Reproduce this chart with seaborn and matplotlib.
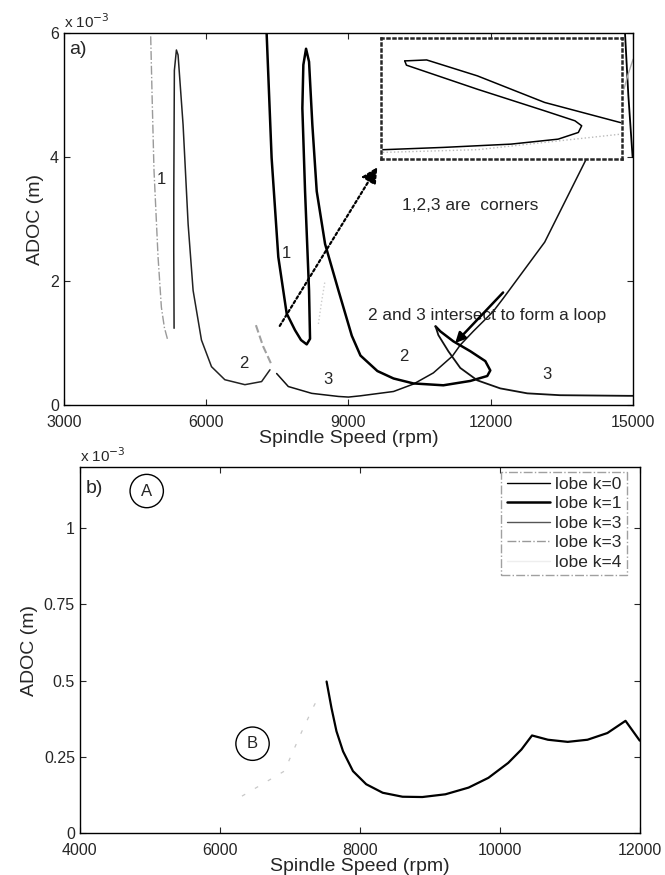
import numpy as np
import pandas as pd
import seaborn as sns
import matplotlib.pyplot as plt
from matplotlib.lines import Line2D

# ---- panel a) data (ADOC in units of 1e-3 m) ----
lobe_dashdot_x = [4831, 4860, 4900, 4986, 5056, 5120, 5183]
lobe_dashdot_y = [5.95, 5.00, 3.80, 2.39, 1.58, 1.25, 1.07]

lobe_left_x = [5324, 5317, 5318, 5330, 5373, 5408, 5514, 5620, 5725, 5901, 6113, 6394, 6817, 7169, 7345]
lobe_left_y = [1.24, 2.50, 3.45, 5.40, 5.73, 5.65, 4.52, 2.92, 1.85, 1.05, 0.62, 0.41, 0.33, 0.38, 0.57]

lobe_frag_x = [7049, 7200, 7380]
lobe_frag_y = [1.29, 0.95, 0.65]

lobe3_x = [7486, 7732, 8225, 8789, 9000, 9250, 9950, 10370, 10790, 11190, 11357, 11630, 12050,
           12260, 13137, 14000]
lobe3_y = [0.51, 0.30, 0.19, 0.14, 0.13, 0.15, 0.22, 0.34, 0.52, 0.79, 0.97, 1.19, 1.51,
           1.72, 2.63, 3.95]

lobe1_x = [7275, 7380, 7521, 7697, 7873, 8000, 8120, 8190, 8169, 8085, 8028, 8049, 8106, 8169,
           8239, 8331, 8507, 8789, 9070, 9253, 9610, 9950, 10370, 11000, 11568, 11926, 11990,
           11885, 11568, 11210, 10937, 10836]
lobe1_y = [6.00, 3.99, 2.39, 1.48, 1.21, 1.05, 0.98, 1.07, 1.85, 3.45, 4.79, 5.49, 5.75, 5.54,
           4.52, 3.45, 2.60, 1.85, 1.12, 0.80, 0.55, 0.43, 0.35, 0.32, 0.39, 0.47, 0.56,
           0.71, 0.87, 1.03, 1.19, 1.27]

tail_x = [10836, 10895, 11105, 11357, 11716, 12200, 12770, 13460, 14890, 15000]
tail_y = [1.27, 1.13, 0.87, 0.60, 0.40, 0.27, 0.19, 0.16, 0.15, 0.15]

edge_x = [14830, 14900, 14990]
edge_y = [6.0, 5.0, 4.0]
edge_light_x = [14808, 14900, 15000]
edge_light_y = [5.10, 5.35, 5.58]

faint_x = [8366, 8430, 8507]
faint_y = [1.31, 1.65, 2.01]

# inset (zoomed loop), unit coordinates
inset_up_x = [0.098, 0.189, 0.40, 0.68, 0.996]
inset_up_y = [0.808, 0.816, 0.685, 0.466, 0.30]
inset_lo_x = [0.098, 0.105, 0.40, 0.68, 0.806, 0.834, 0.82, 0.736, 0.54, 0.259, 0.007]
inset_lo_y = [0.808, 0.773, 0.575, 0.397, 0.315, 0.274, 0.219, 0.164, 0.123, 0.096, 0.077]
inset_lt_x = [0.007, 0.40, 0.996]
inset_lt_y = [0.055, 0.077, 0.205]

labels_a = [("1", 5056, 3.64), ("1", 7697, 2.44), ("2", 6803, 0.67),
            ("3", 8577, 0.41), ("2", 10160, 0.79), ("3", 13190, 0.49)]

# ---- panel b) data ----
stab_x = [7526, 7596, 7667, 7761, 7903, 8092, 8328, 8611, 8894, 9224, 9555, 9838, 10121, 10310,
          10461, 10688, 10971, 11254, 11538, 11797, 12000]
stab_y = [0.497, 0.410, 0.334, 0.268, 0.203, 0.160, 0.132, 0.119, 0.118, 0.127, 0.149, 0.181,
          0.230, 0.274, 0.320, 0.306, 0.299, 0.306, 0.328, 0.368, 0.303]

faint_b_x = [6317, 6922, 7164, 7345, 7420]
faint_b_y = [0.121, 0.203, 0.329, 0.417, 0.45]

legend_labels = ['lobe k=0', 'lobe k=1', 'lobe k=3', 'lobe k=3', 'lobe k=4']

sns.set_style("ticks")
plt.rcParams['font.family'] = ['Liberation Sans', 'DejaVu Sans']
plt.rcParams['xtick.direction'] = 'in'
plt.rcParams['ytick.direction'] = 'in'

fig = plt.figure(figsize=(6.65, 8.75), dpi=100)
ax1 = fig.add_axes([0.096, 0.537, 0.856, 0.425])
ax2 = fig.add_axes([0.120, 0.048, 0.842, 0.418])


def curve(ax, xs, ys, **kw):
    df = pd.DataFrame({'x': xs, 'y': ys})
    sns.lineplot(data=df, x='x', y='y', sort=False, estimator=None, ax=ax, **kw)


# panel a
curve(ax1, lobe_dashdot_x, lobe_dashdot_y, color='#9a9a9a', lw=1.0, linestyle='-.')
curve(ax1, lobe_left_x, lobe_left_y, color='#222222', lw=1.1)
curve(ax1, lobe_frag_x, lobe_frag_y, color='#a0a0a0', lw=1.5, linestyle='--')
curve(ax1, lobe3_x, lobe3_y, color='#111111', lw=1.1)
curve(ax1, lobe1_x, lobe1_y, color='black', lw=1.8)
curve(ax1, tail_x, tail_y, color='#111111', lw=1.3)
curve(ax1, edge_x, edge_y, color='black', lw=1.3)
curve(ax1, edge_light_x, edge_light_y, color='#aaaaaa', lw=1.0)
curve(ax1, faint_x, faint_y, color='#cccccc', lw=1.0, linestyle=':')

for txt, x, y in labels_a:
    ax1.text(x, y, txt, fontsize=12, ha='center', va='center')
ax1.text(3296, 5.73, "a)", fontsize=14, ha='center', va='center')

ax1.text(11573, 3.22, "1,2,3 are  corners", fontsize=12.5, ha='center', va='center')
ax1.text(11926, 1.45, "2 and 3 intersect to form a loop", fontsize=12.4, ha='center', va='center')
ax1.annotate('', xy=(11210, 0.97), xytext=(12300, 1.85),
             arrowprops=dict(arrowstyle='-|>', color='black', lw=1.8, mutation_scale=15))
ax1.annotate('', xy=(9640, 3.88), xytext=(7521, 1.24),
             arrowprops=dict(arrowstyle='-|>', color='black', lw=1.6, linestyle=(0, (1.2, 1.2)),
                             mutation_scale=24))

ins = ax1.inset_axes([9690, 3.97, 14758 - 9690, 5.93 - 3.97], transform=ax1.transData)
ins.set_xlim(0, 1)
ins.set_ylim(0, 1)
ins.set_xticks([])
ins.set_yticks([])
curve(ins, inset_up_x, inset_up_y, color='black', lw=1.1)
curve(ins, inset_lo_x, inset_lo_y, color='black', lw=1.1)
curve(ins, inset_lt_x, inset_lt_y, color='#bbbbbb', lw=1.0, linestyle=':')
ins.set_xlabel('')
ins.set_ylabel('')
for sp in ins.spines.values():
    sp.set_linestyle((0, (0.8, 1.6)))
    sp.set_linewidth(1.8)

ax1.set_xlim(3000, 15000)
ax1.set_ylim(0, 6)
ax1.set_xticks([3000, 6000, 9000, 12000, 15000])
ax1.set_yticks([0, 2, 4, 6])
ax1.set_xlabel("Spindle Speed (rpm)", fontsize=14, labelpad=0)
ax1.set_ylabel("ADOC (m)", fontsize=14, labelpad=4)
ax1.text(0.0, 1.005, r"x 10$^{-3}$", transform=ax1.transAxes, fontsize=11, va='bottom')

# panel b
curve(ax2, stab_x, stab_y, color='black', lw=1.6)
curve(ax2, faint_b_x, faint_b_y, color='#c8c8c8', lw=0.9, linestyle=(0, (3, 9)))

ax2.text(4212, 1.13, "b)", fontsize=14, ha='center', va='center')
for txt, x, y in [("A", 4956, 1.122), ("B", 6468, 0.293)]:
    ax2.text(x, y, txt, fontsize=12, ha='center', va='center',
             bbox=dict(boxstyle='circle,pad=0.55', fc='none', ec='black', lw=1.0))

ax2.set_xlim(4000, 12000)
ax2.set_ylim(0, 1.2)
ax2.set_xticks([4000, 6000, 8000, 10000, 12000])
ax2.set_yticks([0, 0.25, 0.5, 0.75, 1])
ax2.set_yticklabels(['0', '0.25', '0.5', '0.75', '1'])
ax2.set_xlabel("Spindle Speed (rpm)", fontsize=14, labelpad=0)
ax2.set_ylabel("ADOC (m)", fontsize=14, labelpad=4)
ax2.text(0.0, 1.005, r"x 10$^{-3}$", transform=ax2.transAxes, fontsize=11, va='bottom')

handles = [Line2D([], [], color='black', lw=1.0),
           Line2D([], [], color='black', lw=1.8),
           Line2D([], [], color='#555555', lw=1.0),
           Line2D([], [], color='#999999', lw=1.0, linestyle='-.'),
           Line2D([], [], color='#eeeeee', lw=1.0)]
leg = ax2.legend(handles, legend_labels, loc='upper right', fontsize=12.5, frameon=True,
                 fancybox=False, handlelength=2.5, handletextpad=0.3, borderpad=0.3,
                 labelspacing=0.25, borderaxespad=0.25, bbox_to_anchor=(0.985, 1.0))
leg.get_frame().set_edgecolor('#888888')
leg.get_frame().set_linestyle('-.')

for ax in (ax1, ax2):
    ax.tick_params(top=True, right=True, labelsize=11.5, length=4, width=0.8)
    ax.tick_params(axis='x', pad=7)
    for sp in ax.spines.values():
        sp.set_visible(True)
        sp.set_linewidth(1.0)
        sp.set_color('black')

fig.savefig("out.png", dpi=100)
